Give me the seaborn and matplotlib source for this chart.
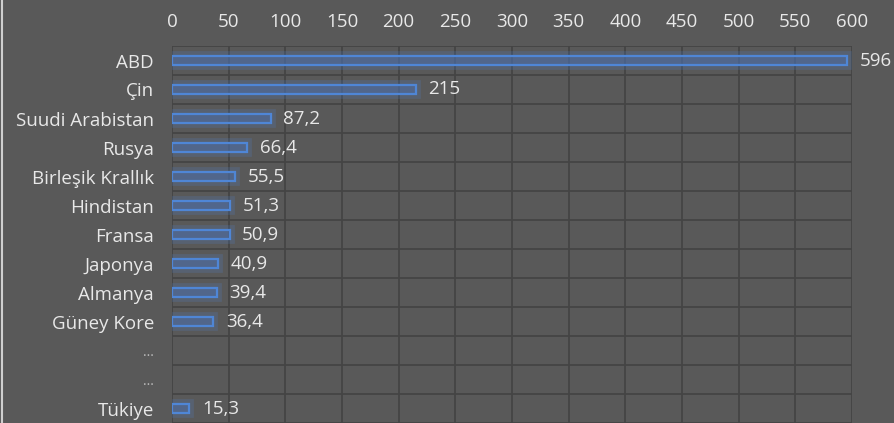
import matplotlib
matplotlib.use("Agg")
import matplotlib.pyplot as plt
import seaborn as sns
import pandas as pd
import numpy as np
from matplotlib.lines import Line2D

countries = ["ABD", "Çin", "Suudi Arabistan", "Rusya", "Birleşik Krallık", "Hindistan",
             "Fransa", "Japonya", "Almanya", "Güney Kore", "...", "...", "Tükiye"]
values = [596, 215, 87.2, 66.4, 55.5, 51.3, 50.9, 40.9, 39.4, 36.4, np.nan, np.nan, 15.3]
labels = ["596", "215", "87,2", "66,4", "55,5", "51,3", "50,9", "40,9", "39,4", "36,4", "", "", "15,3"]
xticks = [0, 50, 100, 150, 200, 250, 300, 350, 400, 450, 500, 550, 600]

BG = "#595959"
GRID = "#444444"
TXT = "#e8e8e8"
EDGE = "#4f86d6"

sns.set_theme(style="white")
plt.rcParams['font.family'] = ['Open Sans', 'DejaVu Sans']

df = pd.DataFrame({"pos": [f"r{i}" for i in range(len(countries))], "v": values})

fig = plt.figure(figsize=(8.94, 4.23), dpi=100, facecolor=BG)
ax = fig.add_axes([172/894, 0.0, (852-172)/894, 1 - 46/423])
ax.set_facecolor(BG)

sns.barplot(data=df, y="pos", x="v", orient="h", ax=ax, width=0.32,
            color="#4a6590", edgecolor=EDGE, linewidth=1.6, zorder=3)
for p in ax.patches:
    p.set_facecolor((0.30, 0.42, 0.62, 0.6))
    x0, y0 = p.get_x(), p.get_y()
    w, h = p.get_width(), p.get_height()
    if np.isnan(w):
        continue
    glow = plt.Rectangle((x0, y0), w, h, fill=False, edgecolor=EDGE, linewidth=7,
                         alpha=0.2, zorder=2)
    ax.add_patch(glow)

ax.set_xlim(0, 600)
ax.set_ylim(len(countries) - 0.5, -0.5)
ax.set_xticks(xticks)
ax.set_xticklabels([str(t) for t in xticks])
ax.xaxis.tick_top()
ax.set_yticks(range(len(countries)))
ax.set_yticklabels(countries)
ax.tick_params(axis="x", length=0, pad=11, labelsize=13.5, colors=TXT, labeltop=True, labelbottom=False)
ax.tick_params(axis="y", length=0, pad=13, labelsize=13.5, colors=TXT)
for t in ax.get_yticklabels():
    if t.get_text() == "...":
        t.set_color("#bdbdbd")
        t.set_fontsize(10)
ax.set_xlabel("")
ax.set_ylabel("")

for xv in xticks:
    ax.axvline(xv, color=GRID, linewidth=1.3, zorder=1)
for k in range(len(countries) + 1):
    ax.axhline(k - 0.5, color=GRID, linewidth=1.3, zorder=1)
for s in ax.spines.values():
    s.set_visible(False)

for i, (v, lab) in enumerate(zip(values, labels)):
    if lab:
        ax.text(v + 11, i, lab, va="center", ha="left", color=TXT, fontsize=13.5,
                clip_on=False, zorder=4)

fig.add_artist(Line2D([1.8/894, 1.8/894], [0, 1], color="#cfcfcf", linewidth=1.5,
                      transform=fig.transFigure))

fig.savefig("out.png", dpi=100, facecolor=BG)
